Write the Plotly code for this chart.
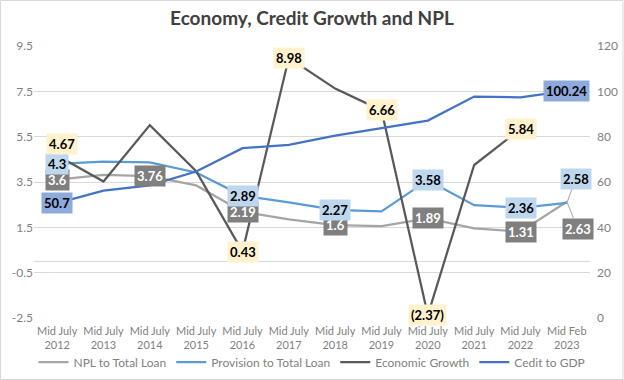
import plotly.graph_objects as go

categories = ["Mid July<br>2012", "Mid July<br>2013", "Mid July<br>2014", "Mid July<br>2015",
              "Mid July<br>2016", "Mid July<br>2017", "Mid July<br>2018", "Mid July<br>2019",
              "Mid July<br>2020", "Mid July<br>2021", "Mid July<br>2022", "Mid Feb<br>2023"]
npl = [3.6, 3.81, 3.76, 3.35, 2.19, 1.85, 1.6, 1.55, 1.89, 1.45, 1.31, 2.63]
provision = [4.3, 4.4, 4.37, 3.92, 2.89, 2.6, 2.27, 2.2, 3.58, 2.48, 2.36, 2.58]
growth = [4.67, 3.52, 6.01, 3.98, 0.43, 8.98, 7.62, 6.66, -2.37, 4.25, 5.84, None]
credit = [50.7, 56.2, 58.5, 64.6, 74.9, 76.4, 80.5, 83.7, 87.1, 97.7, 97.3, 100.24]

left_ticks = [-2.5, -0.5, 1.5, 3.5, 5.5, 7.5, 9.5]
left_ticktext = ["-2.5", "-0.5", "1.5", "3.5", "5.5", "7.5", "9.5"]
right_ticks = [0, 20, 40, 60, 80, 100, 120]

npl_labeled = [0, 2, 4, 6, 8, 10, 11]
prov_labeled = [0, 4, 6, 8, 10, 11]
growth_labeled = [0, 4, 5, 7, 8, 10]
credit_labeled = [0, 11]

FONT = "Lato"
C_NPL = "#A5A5A5"
C_PROV = "#5B9BD5"
C_GROW = "#595959"
C_CRED = "#4472C4"
C_TXT = "#7F7F7F"


def fmt(v):
    return f"({abs(v):g})" if v < 0 else f"{v:g}"


fig = go.Figure()
fig.add_trace(go.Scatter(x=categories, y=npl, name="NPL to Total Loan", mode="lines",
                         line=dict(color=C_NPL, width=2.25)))
fig.add_trace(go.Scatter(x=categories, y=provision, name="Provision to Total Loan", mode="lines",
                         line=dict(color=C_PROV, width=2.25)))
fig.add_trace(go.Scatter(x=categories, y=growth, name="Economic Growth", mode="lines",
                         line=dict(color=C_GROW, width=2.25)))
fig.add_trace(go.Scatter(x=categories, y=credit, name="Cedit to GDP", mode="lines",
                         line=dict(color=C_CRED, width=2.25), yaxis="y2"))

annotations = []


def add_labels(idx_list, values, bg, fc, yref, special=None):
    special = special or {}
    for i in idx_list:
        v = values[i]
        a = dict(x=categories[i], y=v, xref="x", yref=yref, text="<b>" + fmt(v) + "</b>",
                 bgcolor=bg, font=dict(family=FONT, size=13, color=fc), borderpad=2,
                 showarrow=False)
        a.update(special.get(i, {}))
        annotations.append(a)


add_labels(npl_labeled, npl, "#7F7F7F", "white", "y",
           {11: dict(showarrow=True, ax=11, ay=27, arrowhead=0,
                     arrowwidth=1, arrowcolor="#A5A5A5")})
add_labels(prov_labeled, provision, "#BDD7EE", "black", "y",
           {11: dict(showarrow=True, ax=9, ay=-24, arrowhead=0,
                     arrowwidth=1, arrowcolor="#A5A5A5")})
add_labels(growth_labeled, growth, "#FFF2CC", "black", "y",
           {0: dict(xshift=5, yshift=11)})
add_labels(credit_labeled, credit, "#8EA9DB", "black", "y2")

# chart-area border
border = [dict(type="rect", xref="paper", yref="paper",
               x0=-33.5 / 556, x1=1 + 33 / 556, y0=-61.5 / 272, y1=1 + 45.5 / 272,
               line=dict(color="#D9D9D9", width=1), fillcolor="rgba(0,0,0,0)")]

fig.update_layout(
    width=624, height=380,
    margin=dict(l=34, r=34, t=46, b=62, autoexpand=False),
    paper_bgcolor="white", plot_bgcolor="white",
    font=dict(family=FONT, size=12, color=C_TXT),
    title=dict(text="<b>Economy, Credit Growth and NPL</b>", x=0.5, xanchor="center",
               y=1 - 18 / 380, yanchor="middle",
               font=dict(family=FONT, size=19, color="#404040")),
    xaxis=dict(type="category", range=[-0.5, 11.5], showgrid=False, showline=False,
               ticks="", tickangle=0, automargin=False, ticklabelstandoff=5,
               tickfont=dict(size=11, color=C_TXT)),
    yaxis=dict(range=[-2.5, 9.5], tickvals=left_ticks, ticktext=left_ticktext,
               showgrid=True, gridcolor="#D9D9D9", gridwidth=1,
               zeroline=True, zerolinecolor="#D9D9D9", zerolinewidth=1, automargin=False,
               showline=False, ticks="", tickfont=dict(size=12, color=C_TXT)),
    yaxis2=dict(range=[0, 120], tickvals=right_ticks, overlaying="y", side="right",
                showgrid=False, zeroline=False, showline=False, ticks="", automargin=False,
                ticklabelstandoff=6,
                tickfont=dict(size=12, color=C_TXT)),
    legend=dict(orientation="h", xref="container", yref="container",
                x=0.5, xanchor="center", y=1 - 362 / 380, yanchor="middle",
                font=dict(size=12, color=C_TXT), bgcolor="rgba(0,0,0,0)", tracegroupgap=0),
    showlegend=True,
    annotations=annotations,
    shapes=border,
)

fig.write_html("out.html", config={"displayModeBar": False},
               post_script="document.body.style.margin='0';")
